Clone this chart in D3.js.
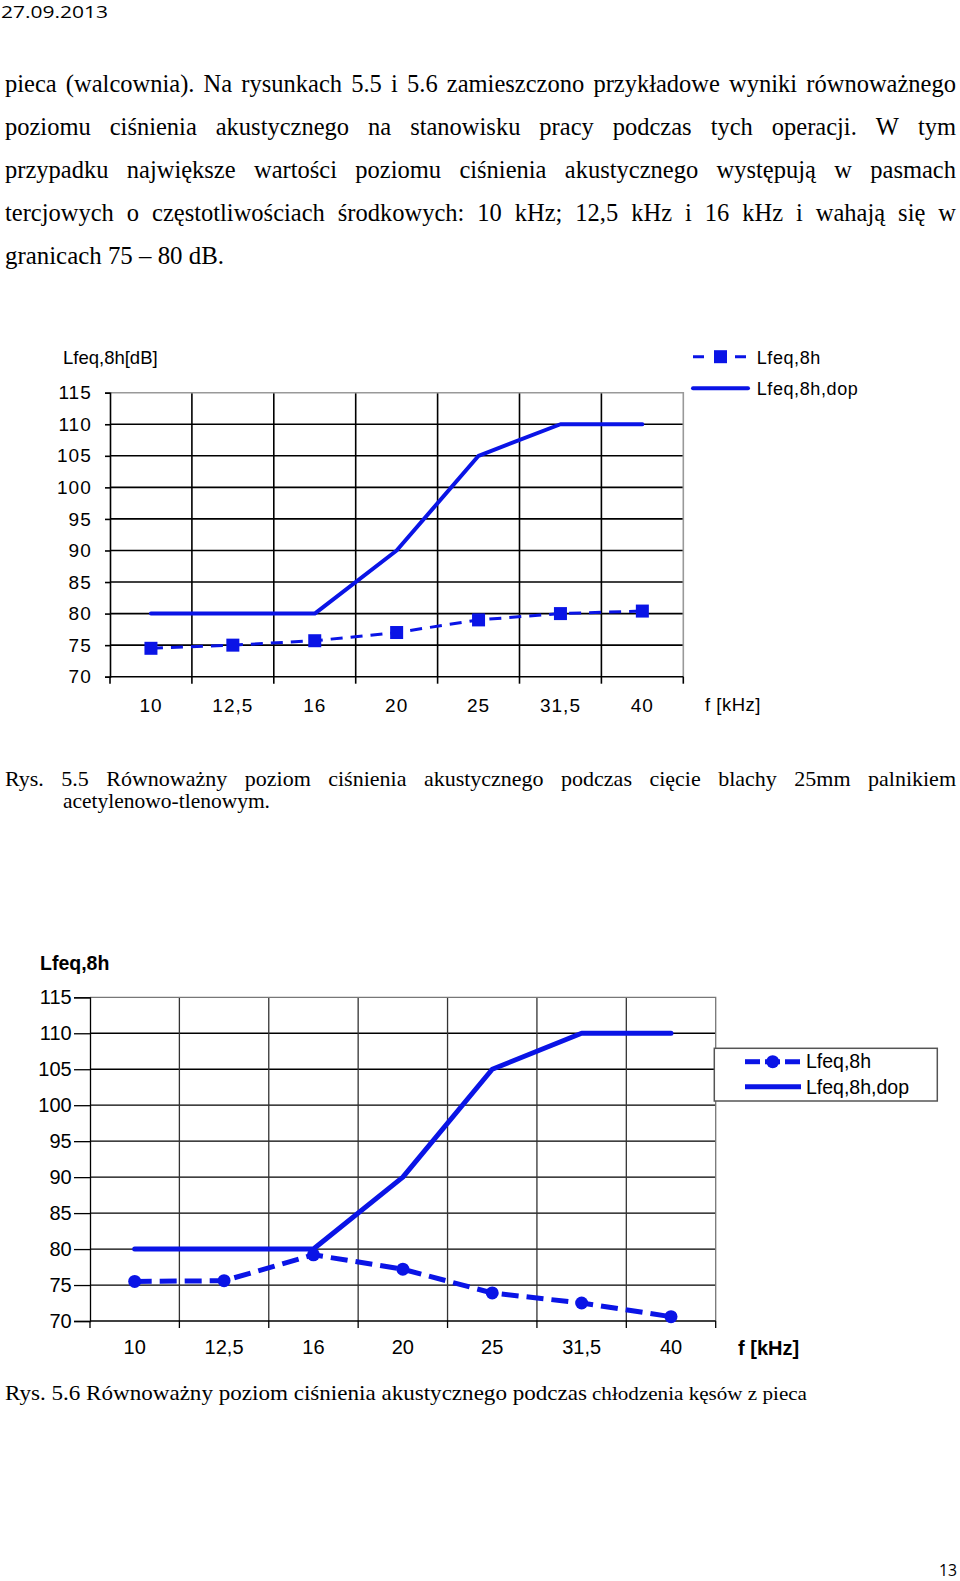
<!DOCTYPE html>
<html>
<head>
<meta charset="utf-8">
<script src="https://cdn.jsdelivr.net/npm/d3@7/dist/d3.min.js"></script>
<style>
  html, body { margin: 0; padding: 0; background: #fff; }
  svg { display: block; }
</style>
</head>
<body>
<svg id="page" width="960" height="1581"></svg>
<script>
// ---------------- DATA ----------------
const categories = ["10", "12,5", "16", "20", "25", "31,5", "40"];
const yTicks = [70, 75, 80, 85, 90, 95, 100, 105, 110, 115];

// Rys. 5.5
const fig55Measured = [74.5, 75.0, 75.7, 77.0, 79.0, 80.0, 80.4];
const fig55Allowed  = [80, 80, 80, 90, 105, 110, 110];
// Rys. 5.6
const fig56Measured = [75.5, 75.6, 79.2, 77.2, 73.9, 72.5, 70.6];
const fig56Allowed  = [80, 80, 80, 90, 105, 110, 110];

const seriesNames = ["Lfeq,8h", "Lfeq,8h,dop"];

const headerDate = "27.09.2013";
const pageNumber = "13";
const bodyLines = [
  "pieca (walcownia). Na rysunkach 5.5 i 5.6 zamieszczono przykładowe wyniki równoważnego",
  "poziomu ciśnienia akustycznego na stanowisku pracy podczas tych operacji. W tym",
  "przypadku największe wartości poziomu ciśnienia akustycznego występują w pasmach",
  "tercjowych o częstotliwościach środkowych: 10 kHz; 12,5 kHz i 16 kHz i wahają się w",
  "granicach 75 – 80 dB."
];
const caption55 = ["Rys. 5.5 Równoważny poziom ciśnienia akustycznego podczas cięcie blachy 25mm palnikiem",
                   "acetylenowo-tlenowym."];
const caption56a = "Rys. 5.6 Równoważny poziom ciśnienia akustycznego podczas";
const caption56b = "chłodzenia kęsów z pieca";

// ---------------- DRAW ----------------
const svg = d3.select("#page");
const BLUE = "#0a14e6";
const SERIF = "'Liberation Serif','Times New Roman',serif";
const SANS = "'Liberation Sans',Arial,sans-serif";

function justified(text, x0, x1, baseline, size) {
  const words = text.split(" ");
  const g = svg.append("g").attr("font-family", SERIF).attr("font-size", size);
  const nodes = words.map(w => g.append("text").attr("y", baseline).text(w));
  const widths = nodes.map(n => n.node().getComputedTextLength());
  const total = d3.sum(widths);
  const gap = (x1 - x0 - total) / (words.length - 1);
  let x = x0;
  nodes.forEach((n, i) => { n.attr("x", x); x += widths[i] + gap; });
}
function fitted(text, x0, x1, baseline, size, family) {
  return svg.append("text").attr("x", x0).attr("y", baseline)
    .attr("font-family", family).attr("font-size", size)
    .attr("textLength", x1 - x0).attr("lengthAdjust", "spacingAndGlyphs")
    .text(text);
}

// header & page number
fitted(headerDate, 1, 108, 18, 17, "'Open Sans',sans-serif");
fitted(pageNumber, 939, 957, 1576, 17, "'Open Sans',sans-serif");

// body text
const bodyBase = [92, 135, 178, 221, 264];
bodyLines.forEach((l, i) => {
  if (i < 4) justified(l, 5, 956, bodyBase[i], 24.5);
  else fitted(l, 5, 224, bodyBase[i], 24.5, SERIF);
});

// captions
justified(caption55[0], 5, 956, 786, 22);
fitted(caption55[1], 63, 270, 808, 22, SERIF);
fitted(caption56a, 5, 587, 1400, 22, SERIF);
fitted(caption56b, 592, 807, 1400, 18.5, SERIF);

function drawChart(cfg, measured, allowed) {
  const x = d3.scaleBand().domain(categories).range([cfg.x0, cfg.x1]);
  const y = d3.scaleLinear().domain([70, 115]).range([cfg.yB, cfg.yT]);
  const cx = c => x(c) + x.bandwidth() / 2;
  const g = svg.append("g");

  // horizontal grid
  g.selectAll(".hg").data(yTicks.slice(1, -1)).join("line")
    .attr("x1", cfg.x0).attr("x2", cfg.x1)
    .attr("y1", d => y(d)).attr("y2", d => y(d))
    .attr("stroke", "#000").attr("stroke-width", cfg.gridW);
  // vertical grid (band boundaries)
  g.selectAll(".vg").data(categories.slice(1)).join("line")
    .attr("x1", d => x(d)).attr("x2", d => x(d))
    .attr("y1", cfg.yT).attr("y2", cfg.yB)
    .attr("stroke", cfg.vGridColor).attr("stroke-width", cfg.gridW);
  // top and right border
  g.append("path")
    .attr("d", `M${cfg.x0},${y(115)}H${cfg.x1}V${cfg.yB}`)
    .attr("fill", "none").attr("stroke", cfg.borderColor).attr("stroke-width", cfg.gridW);

  // y axis
  const ya = g.append("g").attr("transform", `translate(${cfg.x0},0)`)
    .call(d3.axisLeft(y).tickValues(yTicks).tickSize(cfg.yTick).tickPadding(cfg.yPad));
  ya.select(".domain").attr("stroke", "#000").attr("stroke-width", cfg.gridW);
  ya.selectAll(".tick line").attr("stroke", "#000").attr("stroke-width", cfg.gridW);
  ya.selectAll("text").attr("font-family", SANS).attr("font-size", cfg.fs)
    .attr("letter-spacing", cfg.ls).attr("fill", "#000");

  // x axis line + boundary ticks
  g.append("line").attr("x1", cfg.x0).attr("x2", cfg.x1).attr("y1", cfg.yB).attr("y2", cfg.yB)
    .attr("stroke", "#000").attr("stroke-width", cfg.gridW);
  const bounds = categories.map(c => x(c)).concat([cfg.x1]);
  g.selectAll(".xt").data(bounds).join("line")
    .attr("x1", d => d).attr("x2", d => d).attr("y1", cfg.yB).attr("y2", cfg.yB + cfg.xTick)
    .attr("stroke", "#000").attr("stroke-width", cfg.gridW);
  const xa = g.append("g").attr("transform", `translate(0,${cfg.yB})`)
    .call(d3.axisBottom(x).tickSize(0).tickPadding(cfg.xPad));
  xa.select(".domain").remove();
  xa.selectAll("text").attr("font-family", SANS).attr("font-size", cfg.fs)
    .attr("letter-spacing", cfg.ls).attr("fill", "#000");

  // allowed (solid)
  const line = d3.line().x((d, i) => cx(categories[i])).y(d => y(d));
  g.append("path").datum(allowed).attr("d", line)
    .attr("fill", "none").attr("stroke", BLUE).attr("stroke-width", cfg.solidW)
    .attr("stroke-linejoin", "round").attr("stroke-linecap", "round");
  // measured (dashed)
  g.append("path").datum(measured).attr("d", line)
    .attr("fill", "none").attr("stroke", BLUE).attr("stroke-width", cfg.dashW)
    .attr("stroke-dasharray", cfg.dash);
  if (cfg.marker === "square") {
    g.selectAll(".mk").data(measured).join("rect")
      .attr("x", (d, i) => cx(categories[i]) - cfg.mSize / 2)
      .attr("y", d => y(d) - cfg.mSize / 2)
      .attr("width", cfg.mSize).attr("height", cfg.mSize).attr("fill", BLUE);
  } else {
    g.selectAll(".mk").data(measured).join("circle")
      .attr("cx", (d, i) => cx(categories[i])).attr("cy", d => y(d))
      .attr("r", cfg.mSize / 2).attr("fill", BLUE);
  }
  return g;
}

// ---- Rys. 5.5 ----
const c1 = {x0: 110, x1: 683.3, yT: 392.7, yB: 676.7, gridW: 1.6, vGridColor: "#000", borderColor: "#999",
  yTick: 5, yPad: 13.3, xTick: 7, xPad: 22, fs: 19, ls: 1, solidW: 4, dashW: 3, dash: "12,8",
  marker: "square", mSize: 13};
const g1 = drawChart(c1, fig55Measured, fig55Allowed);
g1.append("text").attr("x", 63).attr("y", 364).attr("font-family", SANS).attr("font-size", 18.5)
  .text("Lfeq,8h[dB]");
g1.append("text").attr("x", 705).attr("y", 711).attr("font-family", SANS).attr("font-size", 18.5)
  .attr("letter-spacing", 0.5).text("f [kHz]");
// legend 1
g1.append("line").attr("x1", 693).attr("x2", 748).attr("y1", 356.7).attr("y2", 356.7)
  .attr("stroke", BLUE).attr("stroke-width", 3).attr("stroke-dasharray", "11,10");
g1.append("rect").attr("x", 714).attr("y", 350.2).attr("width", 13).attr("height", 13).attr("fill", BLUE);
g1.append("line").attr("x1", 693).attr("x2", 748).attr("y1", 388.3).attr("y2", 388.3)
  .attr("stroke", BLUE).attr("stroke-width", 4).attr("stroke-linecap", "round");
g1.append("text").attr("x", 756.7).attr("y", 363.5).attr("font-family", SANS).attr("font-size", 18)
  .attr("letter-spacing", 0.6).text(seriesNames[0]);
g1.append("text").attr("x", 756.7).attr("y", 395).attr("font-family", SANS).attr("font-size", 18)
  .attr("letter-spacing", 0.6).text(seriesNames[1]);

// ---- Rys. 5.6 ----
const c2 = {x0: 90, x1: 715.7, yT: 997.3, yB: 1321, gridW: 1.3, vGridColor: "#333", borderColor: "#777",
  yTick: 16, yPad: 2.3, xTick: 7, xPad: 18.8, fs: 20, ls: 0, solidW: 5, dashW: 5, dash: "17,8",
  marker: "circle", mSize: 13};
const g2 = drawChart(c2, fig56Measured, fig56Allowed);
g2.append("text").attr("x", 40).attr("y", 969.5).attr("font-family", SANS).attr("font-size", 19.5)
  .attr("font-weight", "bold").text("Lfeq,8h");
g2.append("text").attr("x", 738).attr("y", 1355).attr("font-family", SANS).attr("font-size", 20)
  .attr("font-weight", "bold").text("f [kHz]");
// legend 2
g2.append("rect").attr("x", 714.3).attr("y", 1048.3).attr("width", 223).attr("height", 52.7)
  .attr("fill", "#fff").attr("stroke", "#555").attr("stroke-width", 1.5);
g2.append("line").attr("x1", 745).attr("x2", 760).attr("y1", 1061.7).attr("y2", 1061.7)
  .attr("stroke", BLUE).attr("stroke-width", 5);
g2.append("line").attr("x1", 765).attr("x2", 800).attr("y1", 1061.7).attr("y2", 1061.7)
  .attr("stroke", BLUE).attr("stroke-width", 5).attr("stroke-dasharray", "15,5,15");
g2.append("circle").attr("cx", 772.7).attr("cy", 1061.7).attr("r", 6.5).attr("fill", BLUE);
g2.append("line").attr("x1", 745).attr("x2", 801).attr("y1", 1086.7).attr("y2", 1086.7)
  .attr("stroke", BLUE).attr("stroke-width", 5);
g2.append("text").attr("x", 806).attr("y", 1067.5).attr("font-family", SANS).attr("font-size", 19.5)
  .text(seriesNames[0]);
g2.append("text").attr("x", 806).attr("y", 1093.5).attr("font-family", SANS).attr("font-size", 19.5)
  .text(seriesNames[1]);
</script>
</body>
</html>
